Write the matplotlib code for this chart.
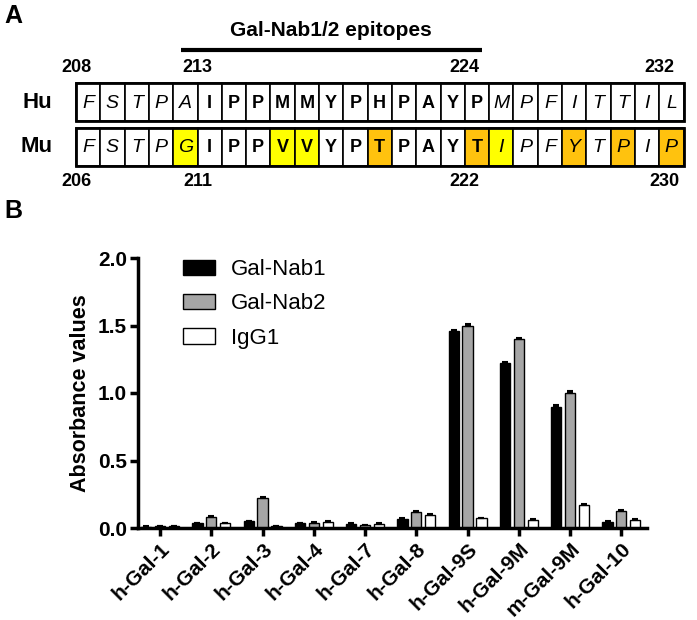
import numpy as np
import matplotlib.pyplot as plt
import matplotlib.transforms as mtransforms
from matplotlib.patches import Rectangle

plt.rcParams.update({"font.family": ["Liberation Sans", "DejaVu Sans"]})

# ── Panel A data ─────────────────────────────────────────────
HU_SEQ = list("FSTPAIPPMMYPHPAYPMPFITTIL")
MU_SEQ = list("FSTPGIPPVVYPTPAYTIPFYTPIP")
EPITOPE = range(5, 17)                    # bold residues (213-224)
MU_YELLOW = [4, 8, 9, 17]
MU_ORANGE = [12, 16, 20, 22, 24]
HU_NUMS = {0: "208", 5: "213", 16: "224", 24: "232"}
MU_NUMS = {0: "206", 5: "211", 16: "222", 24: "230"}

# ── Panel B data ─────────────────────────────────────────────
GROUPS = ["h-Gal-1", "h-Gal-2", "h-Gal-3", "h-Gal-4", "h-Gal-7",
          "h-Gal-8", "h-Gal-9S", "h-Gal-9M", "m-Gal-9M", "h-Gal-10"]
NAB1 = [0.010, 0.035, 0.050, 0.035, 0.030, 0.070, 1.46, 1.22, 0.90, 0.045]
NAB2 = [0.015, 0.085, 0.225, 0.040, 0.020, 0.120, 1.50, 1.40, 1.00, 0.125]
IGG1 = [0.015, 0.035, 0.015, 0.045, 0.030, 0.100, 0.072, 0.060, 0.170, 0.060]
ERR1 = [0.003, 0.004, 0.005, 0.004, 0.004, 0.004, 0.010, 0.008, 0.008, 0.005]
ERR2 = [0.003, 0.005, 0.006, 0.004, 0.004, 0.005, 0.010, 0.010, 0.012, 0.006]
ERR3 = [0.003, 0.004, 0.003, 0.004, 0.004, 0.004, 0.005, 0.010, 0.005, 0.005]

W, H = 697, 620
fig = plt.figure(figsize=(W / 100, H / 100), dpi=100)

# ══════════════════════════════════════════════════════════════
# Panel A (pixel coords)
# ══════════════════════════════════════════════════════════════
axa = fig.add_axes([0, 0, 1, 1])
axa.set_xlim(0, W)
axa.set_ylim(H, 0)
axa.axis("off")

x0, cw = 76, 24.3
rows = [(HU_SEQ, 83, 121, "Hu"), (MU_SEQ, 128, 166, "Mu")]
for seq, top, bot, name in rows:
    for i, aa in enumerate(seq):
        fc = "white"
        if name == "Mu" and i in MU_YELLOW:
            fc = "#FFFF00"
        elif name == "Mu" and i in MU_ORANGE:
            fc = "#FFC20E"
        axa.add_patch(Rectangle((x0 + i * cw, top), cw, bot - top,
                                facecolor=fc, edgecolor="black", lw=1.2))
        if i in EPITOPE:
            axa.text(x0 + (i + 0.5) * cw, (top + bot) / 2 + 1, aa,
                     ha="center", va="center", fontsize=13, fontweight="bold")
        else:
            axa.text(x0 + (i + 0.5) * cw, (top + bot) / 2 + 1, aa,
                     ha="center", va="center", fontsize=14, style="italic")
    axa.add_patch(Rectangle((x0, top), cw * len(seq), bot - top,
                            facecolor="none", edgecolor="black", lw=2))
    axa.text(37, (top + bot) / 2, name, ha="center", va="center",
             fontsize=16, fontweight="bold")

for i, s in HU_NUMS.items():
    axa.text(x0 + i * cw, 68, s, ha="center", va="center",
             fontsize=13, fontweight="bold")
for i, s in MU_NUMS.items():
    axa.text(x0 + i * cw + (5 if i == 24 else 0), 182, s, ha="center",
             va="center", fontsize=13, fontweight="bold")

axa.plot([181, 482], [50, 50], color="black", lw=3, solid_capstyle="butt")
axa.text(331, 30, "Gal-Nab1/2 epitopes", ha="center", va="center",
         fontsize=15, fontweight="bold")
axa.text(13, 16, "A", ha="center", va="center", fontsize=18, fontweight="bold")
axa.text(13, 211, "B", ha="center", va="center", fontsize=18, fontweight="bold")

# ══════════════════════════════════════════════════════════════
# Panel B
# ══════════════════════════════════════════════════════════════
ax = fig.add_axes([138 / W, 1 - 528 / H, (647 - 138) / W, (528 - 258) / H])
x = np.arange(len(GROUPS))
bw, off = 0.2, 0.27
ekw = dict(ecolor="black", elinewidth=1.5, capsize=2.5, capthick=1.5)
ax.bar(x - off, NAB1, bw, yerr=[np.zeros(len(x)), ERR1], color="black",
       edgecolor="black", lw=1, label="Gal-Nab1", error_kw=ekw)
ax.bar(x, NAB2, bw, yerr=[np.zeros(len(x)), ERR2], color="#A6A6A6",
       edgecolor="black", lw=1, label="Gal-Nab2", error_kw=ekw)
ax.bar(x + off, IGG1, bw, yerr=[np.zeros(len(x)), ERR3], color="white",
       edgecolor="black", lw=1, label="IgG1", error_kw=ekw)

ax.set_xlim(-0.43, 9.5)
ax.set_ylim(0, 2.0)
ax.set_yticks([0, 0.5, 1.0, 1.5, 2.0])
ax.set_yticklabels(["0.0", "0.5", "1.0", "1.5", "2.0"],
                   fontsize=15, fontweight="bold")
ax.set_xticks(x)
ax.set_xticklabels(GROUPS, rotation=45, ha="right", va="top",
                   rotation_mode="anchor", fontsize=15, fontweight="bold")
shift = mtransforms.ScaledTranslation(-6 / 100, -3 / 100, fig.dpi_scale_trans)
for lbl in ax.get_xticklabels():
    lbl.set_transform(lbl.get_transform() + shift)
ax.set_ylabel("Absorbance values", fontsize=15.5, fontweight="bold", labelpad=5)
ax.spines[["top", "right"]].set_visible(False)
ax.spines[["left", "bottom"]].set_linewidth(2.5)
ax.tick_params(width=2.5, length=6, pad=2)

ax.legend(loc="upper left", bbox_to_anchor=(0.05, 1.07), frameon=False,
          fontsize=16, handlelength=1.4, handleheight=0.7,
          labelspacing=0.6, handletextpad=0.75)

fig.savefig("out.png", dpi=100)
